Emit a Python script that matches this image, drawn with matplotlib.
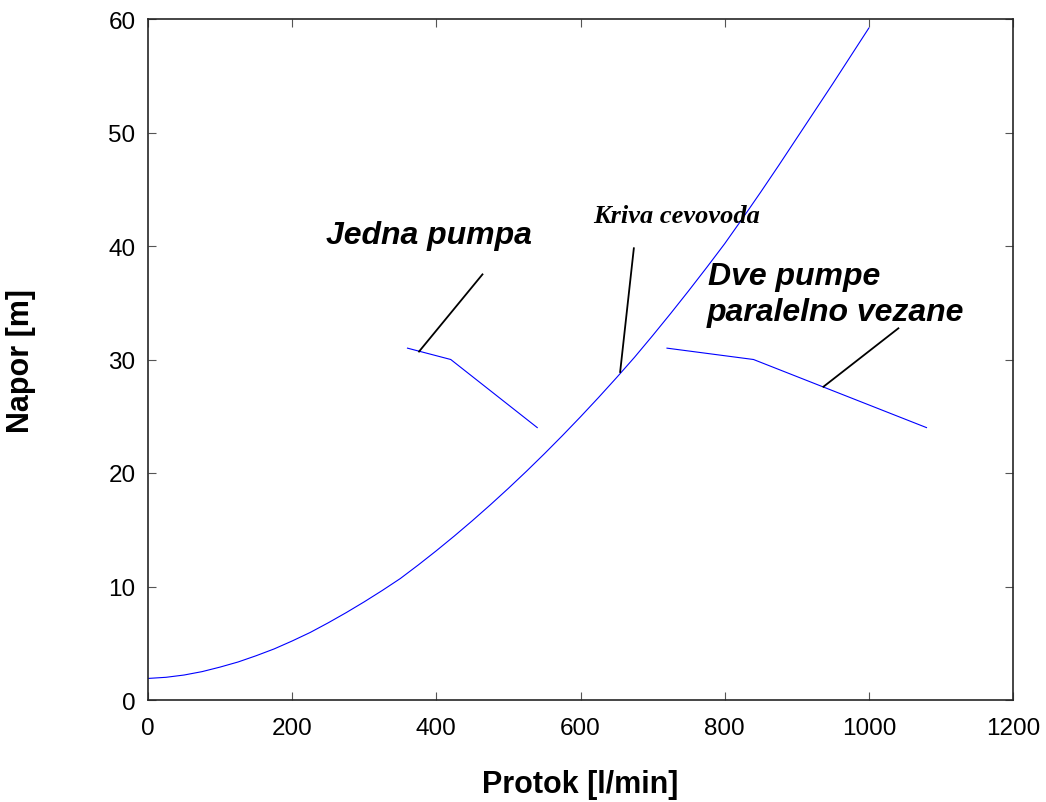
import matplotlib
matplotlib.use("Agg")
import matplotlib.pyplot as plt

# Kriva cevovoda (ocitano sa slike)
protok_cev = [0, 25, 50, 75, 100, 125, 150, 175, 200, 225, 250, 275,
              300, 325, 350, 375, 400, 425, 450, 475, 500, 525, 550,
              575, 600, 625, 650, 675, 700, 725, 750, 775, 800, 825,
              850, 875, 900, 925, 950, 975, 1000]
napor_cev = [1.9, 2.0, 2.2, 2.5, 2.9, 3.35, 3.9, 4.5, 5.2, 5.95, 6.8, 7.7,
             8.65, 9.65, 10.7, 11.9, 13.15, 14.45, 15.8, 17.2, 18.65, 20.15, 21.7,
             23.3, 24.95, 26.65, 28.4, 30.2, 32.1, 34.05, 36.05, 38.1, 40.2, 42.45,
             44.75, 47.1, 49.5, 51.9, 54.3, 56.75, 59.2]

# Jedna pumpa
protok_1 = [360, 420, 540]
napor_1 = [31, 30, 24]

# Dve pumpe paralelno vezane
protok_2 = [720, 840, 1080]
napor_2 = [31, 30, 24]

# Linije oznaka
oznaka_1 = ([464, 376], [37.5, 30.7])
oznaka_cev = ([674, 655], [39.8, 28.9])
oznaka_2 = ([1041, 937], [32.75, 27.6])

plt.rcParams["font.family"] = ["Liberation Sans", "DejaVu Sans"]

fig = plt.figure(figsize=(10.46, 8.03), dpi=100)
ax = fig.add_axes([148 / 1046, 1 - 701 / 803, 865 / 1046, 681 / 803])

ax.plot(protok_cev, napor_cev, color="#0000ff", lw=0.8)
ax.plot(protok_1, napor_1, color="#0000ff", lw=0.8)
ax.plot(protok_2, napor_2, color="#0000ff", lw=0.8)

for xs, ys in (oznaka_1, oznaka_cev, oznaka_2):
    ax.plot(xs, ys, color="black", lw=1.3)

natpis = dict(fontsize=23, fontweight="bold", fontstyle="italic", va="baseline")
ax.text(247, 40.3, "Jedna pumpa", **natpis)
ax.text(777, 36.65, "Dve pumpe", **natpis)
ax.text(775, 33.5, "paralelno vezane", **natpis)
ax.text(617, 42.1, "Kriva cevovoda", fontsize=19, fontweight="bold",
        fontstyle="italic", family="Liberation Serif", va="baseline")

ax.set_xlim(0, 1200)
ax.set_ylim(0, 60)
ax.set_xticks(range(0, 1201, 200))
ax.set_yticks(range(0, 61, 10))

ax.tick_params(direction="in", top=True, right=True, length=6, width=0.8,
               color="#555555", labelsize=17.5, pad=9)
ax.tick_params(axis="x", pad=12)
for s in ax.spines.values():
    s.set_color("#262626")
    s.set_linewidth(1.2)

ax.set_xlabel("Protok [l/min]", fontsize=22, fontweight="bold", labelpad=22)
ax.set_ylabel("Napor [m]", fontsize=22, fontweight="bold", labelpad=52)

fig.savefig("out.png", dpi=100)
